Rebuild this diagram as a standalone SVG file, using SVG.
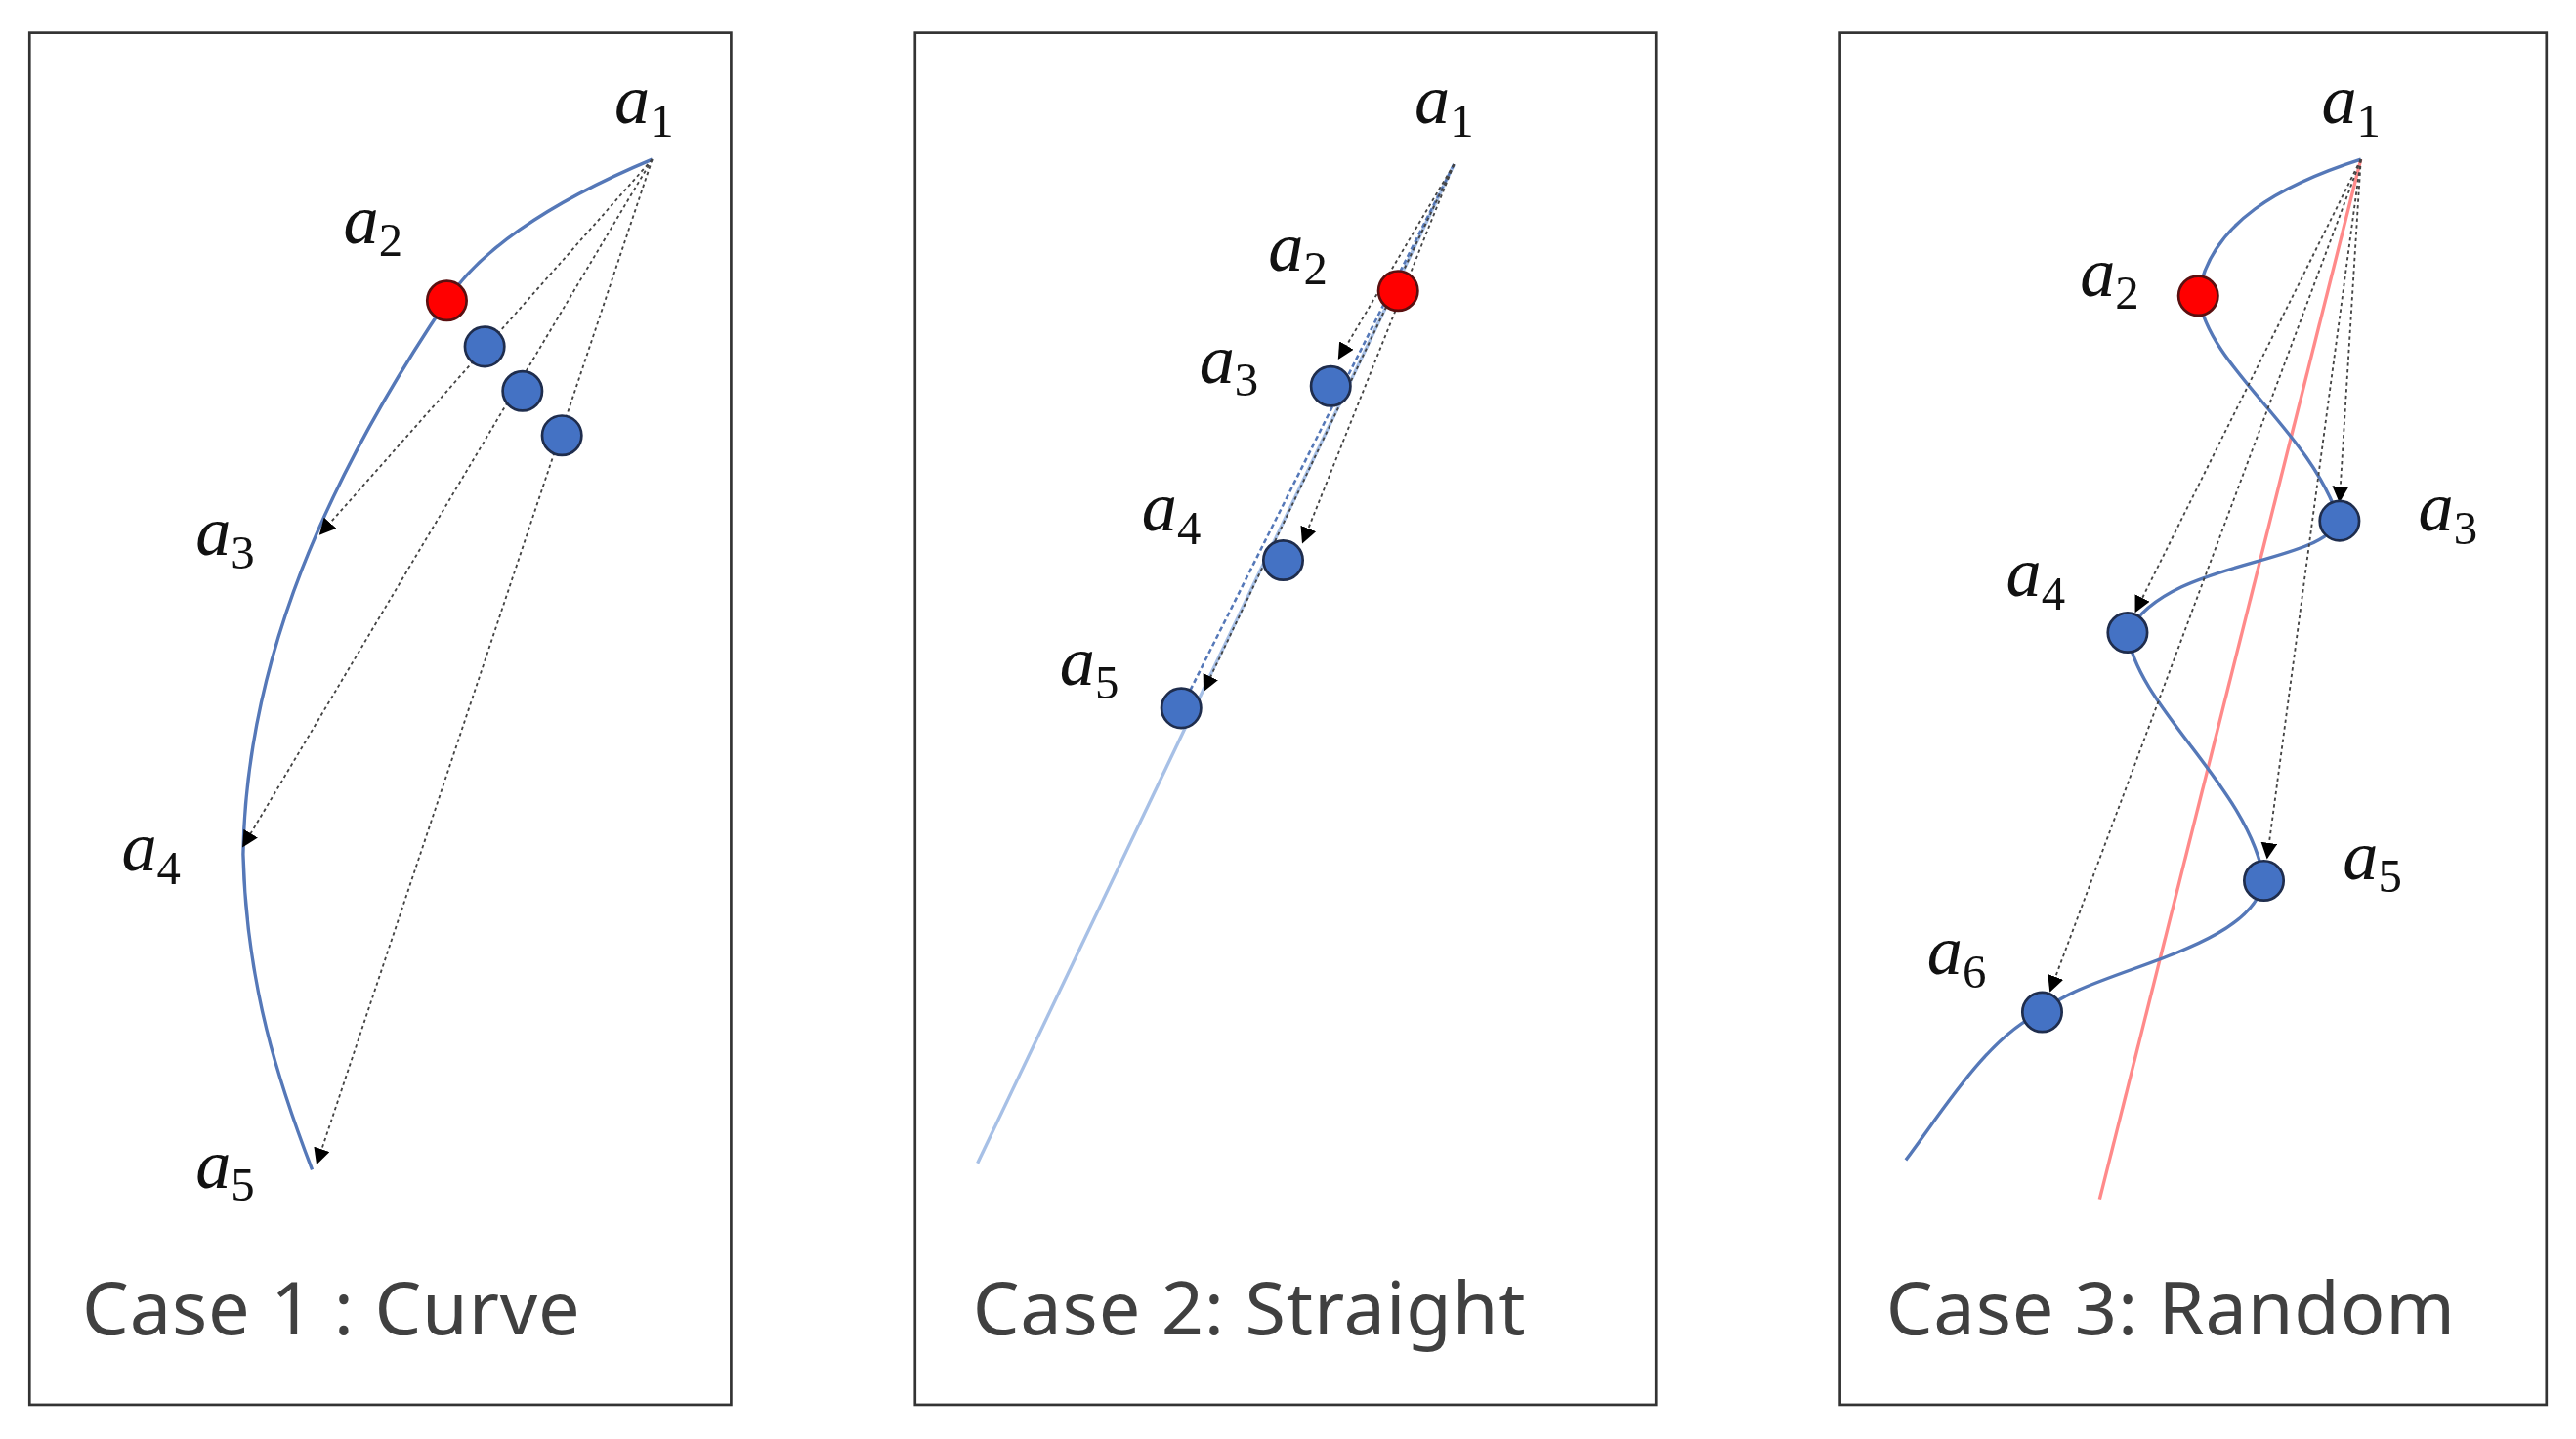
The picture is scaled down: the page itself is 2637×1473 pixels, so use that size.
<svg xmlns="http://www.w3.org/2000/svg" width="2637" height="1473" viewBox="0 0 2637 1473">
<style>
.frame{fill:#fff;stroke:#333;stroke-width:1.6}
.curve{fill:none;stroke:#5578B8;stroke-width:2}
.dot{fill:none;stroke:#444;stroke-width:1.1;stroke-dasharray:2 2}
.lbl{font-family:"Liberation Serif",serif;font-style:italic;font-size:43px;fill:#111}
.sub{font-size:29px;font-style:normal}
.cap{font-family:"Noto Sans","Liberation Sans",sans-serif;font-size:45px;fill:#404040;letter-spacing:0.5px}
.blue{fill:#4472C4;stroke:#1F2D4D;stroke-width:1.6}
.red{fill:#FF0000;stroke:#5A1010;stroke-width:1.6}
</style>
<defs>
<marker id="ah" viewBox="0 0 10 10" refX="9" refY="5" markerWidth="10" markerHeight="10" markerUnits="userSpaceOnUse" orient="auto">
<path d="M0,0 L10,5 L0,10 z" fill="#000"/>
</marker>
</defs>
<rect width="2637" height="1473" fill="#fff"/>
<g transform="scale(1.6818)">
<g id="panel1">
<rect class="frame" x="18" y="20" width="427" height="835"/>
<path class="curve" d="M397,97 C330,125 290,155 272,183 C200,290 150,400 148,520 C150,600 170,660 190,712"/>
<g id="connectors1">
<line class="dot" x1="397" y1="97" x2="195" y2="325" marker-end="url(#ah)"/>
<line class="dot" x1="397" y1="97" x2="148" y2="515" marker-end="url(#ah)"/>
<line class="dot" x1="397" y1="97" x2="193" y2="708" marker-end="url(#ah)"/>
</g>
<circle class="red" cx="272" cy="183" r="12"/>
<circle class="blue" cx="295" cy="211" r="12"/>
<circle class="blue" cx="318" cy="238" r="12"/>
<circle class="blue" cx="342" cy="265" r="12"/>
<text class="lbl" x="374" y="75">a<tspan class="sub" dy="8">1</tspan></text>
<text class="lbl" x="209" y="148">a<tspan class="sub" dy="8">2</tspan></text>
<text class="lbl" x="119" y="338">a<tspan class="sub" dy="8">3</tspan></text>
<text class="lbl" x="74" y="530">a<tspan class="sub" dy="8">4</tspan></text>
<text class="lbl" x="119" y="723">a<tspan class="sub" dy="8">5</tspan></text>
<text class="cap" x="50" y="812">Case 1 : Curve</text>
</g>
<g id="panel2">
<rect class="frame" x="557" y="20" width="451" height="835"/>
<line x1="885" y1="100" x2="595" y2="708" stroke="#A7C0E6" stroke-width="2"/>
<line x1="885" y1="100" x2="719" y2="431" stroke="#5578B8" stroke-width="1.5" stroke-dasharray="3 2"/>
<g id="connectors2">
<line class="dot" x1="885" y1="100" x2="815" y2="218" marker-end="url(#ah)"/>
<line class="dot" x1="885" y1="100" x2="793" y2="330" marker-end="url(#ah)"/>
<line class="dot" x1="885" y1="100" x2="733" y2="420" marker-end="url(#ah)"/>
</g>
<circle class="red" cx="851" cy="177" r="12"/>
<circle class="blue" cx="810" cy="235" r="12"/>
<circle class="blue" cx="781" cy="341" r="12"/>
<circle class="blue" cx="719" cy="431" r="12"/>
<text class="lbl" x="861" y="75">a<tspan class="sub" dy="8">1</tspan></text>
<text class="lbl" x="772" y="165">a<tspan class="sub" dy="8">2</tspan></text>
<text class="lbl" x="730" y="233">a<tspan class="sub" dy="8">3</tspan></text>
<text class="lbl" x="695" y="323">a<tspan class="sub" dy="8">4</tspan></text>
<text class="lbl" x="645" y="417">a<tspan class="sub" dy="8">5</tspan></text>
<text class="cap" x="592" y="812">Case 2: Straight</text>
</g>
<g id="panel3">
<rect class="frame" x="1120" y="20" width="430" height="835"/>
<line x1="1437" y1="97" x2="1278" y2="730" stroke="#FF8A8A" stroke-width="2"/>
<path class="curve" d="M1437,97 C1390,112 1345,135 1338,180 C1345,225 1405,260 1424,317 C1410,345 1320,340 1295,385 C1300,430 1370,480 1378,536 C1370,580 1270,590 1243,616 C1210,630 1180,680 1160,706"/>
<g id="connectors3">
<line class="dot" x1="1437" y1="97" x2="1424" y2="305" marker-end="url(#ah)"/>
<line class="dot" x1="1437" y1="97" x2="1300" y2="372" marker-end="url(#ah)"/>
<line class="dot" x1="1437" y1="97" x2="1380" y2="522" marker-end="url(#ah)"/>
<line class="dot" x1="1437" y1="97" x2="1248" y2="603" marker-end="url(#ah)"/>
</g>
<circle class="red" cx="1338" cy="180" r="12"/>
<circle class="blue" cx="1424" cy="317" r="12"/>
<circle class="blue" cx="1295" cy="385" r="12"/>
<circle class="blue" cx="1378" cy="536" r="12"/>
<circle class="blue" cx="1243" cy="616" r="12"/>
<text class="lbl" x="1413" y="75">a<tspan class="sub" dy="8">1</tspan></text>
<text class="lbl" x="1266" y="180">a<tspan class="sub" dy="8">2</tspan></text>
<text class="lbl" x="1472" y="323">a<tspan class="sub" dy="8">3</tspan></text>
<text class="lbl" x="1221" y="363">a<tspan class="sub" dy="8">4</tspan></text>
<text class="lbl" x="1426" y="535">a<tspan class="sub" dy="8">5</tspan></text>
<text class="lbl" x="1173" y="593">a<tspan class="sub" dy="8">6</tspan></text>
<text class="cap" x="1148" y="812">Case 3: Random</text>
</g>
</g>
</svg>
